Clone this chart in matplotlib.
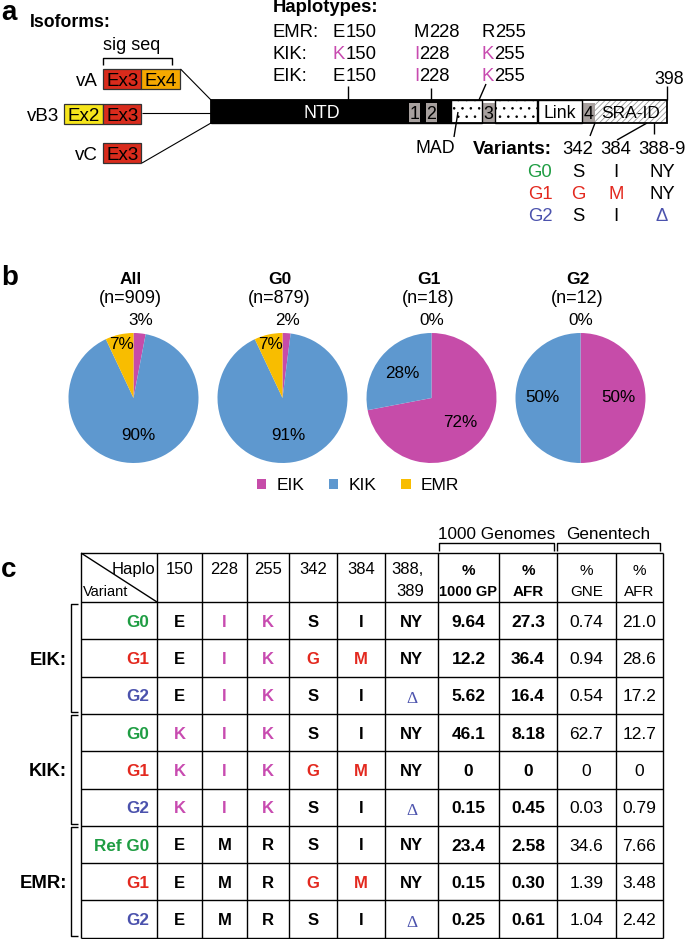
import matplotlib
matplotlib.use('Agg')
import matplotlib.pyplot as plt
from matplotlib.patches import Rectangle, Patch
import math

plt.rcParams['font.family'] = ['Liberation Sans', 'DejaVu Sans']
plt.rcParams['hatch.linewidth'] = 0.6

# ---------------- data ----------------
# panel a
isoform_names = ['vA', 'vB3', 'vC']
isoform_exons = [['Ex3', 'Ex4'], ['Ex2', 'Ex3'], ['Ex3']]
haplotype_names = ['EMR', 'KIK', 'EIK']
haplo_positions = [150, 228, 255]
haplo_residues = {'EMR': ['E', 'M', 'R'], 'KIK': ['K', 'I', 'K'], 'EIK': ['E', 'I', 'K']}
reference_haplotype = 'EMR'
protein_end = '398'
variant_names = ['G0', 'G1', 'G2']
variant_positions = ['342', '384', '388-9']
variant_residues = {'G0': ['S', 'I', 'NY'], 'G1': ['G', 'M', 'NY'], 'G2': ['S', 'I', 'Δ']}

# panel b
pie_groups = ['All', 'G0', 'G1', 'G2']
pie_n = [909, 879, 18, 12]
pie_categories = ['EIK', 'KIK', 'EMR']
pie_eik = [3, 2, 72, 50]
pie_kik = [90, 91, 28, 50]
pie_emr = [7, 7, 0, 0]

# panel c
table_haplotypes = ['EIK', 'KIK', 'EMR']
table_variants = ['G0', 'G1', 'G2']
table_positions = ['150', '228', '255', '342', '384']
pct_1000gp = ['9.64', '12.2', '5.62', '46.1', '0', '0.15', '23.4', '0.15', '0.25']
pct_afr_1000gp = ['27.3', '36.4', '16.4', '8.18', '0', '0.45', '2.58', '0.30', '0.61']
pct_gne = ['0.74', '0.94', '0.54', '62.7', '0', '0.03', '34.6', '1.39', '1.04']
pct_afr_gne = ['21.0', '28.6', '17.2', '12.7', '0', '0.79', '7.66', '3.48', '2.42']

# ---------------- styles ----------------
C_VAR = {'G0': '#1f9d43', 'G1': '#e3291f', 'G2': '#4b52ad'}
MAG = '#c84bb0'
EX_COL = {'Ex3': '#d92b1c', 'Ex4': '#f5a800', 'Ex2': '#f6e51b'}
PIE_COL = ['#c64ca9', '#5e98cf', '#f8bd00']
GRAY = '#a7a09e'

W, H = 685, 939
fig = plt.figure(figsize=(W / 100, H / 100), dpi=100)
ax = fig.add_axes([0, 0, 1, 1])
ax.set_xlim(0, W)
ax.set_ylim(H, 0)
ax.axis('off')

PX = 100 / 72


def T(x, yc, s, size=12, ha='center', color='k', weight='normal', **kw):
    return ax.text(x, yc + 0.358 * size * PX, s, fontsize=size, ha=ha, va='baseline',
                   color=color, fontweight=weight, **kw)


def L(xs, ys, lw=1.0, color='k'):
    ax.plot(xs, ys, color=color, lw=lw, solid_capstyle='butt')


def colored_pair(x, yc, first, rest, c1, size=13.3):
    t1 = T(x, yc, first, size, ha='left', color=c1)
    ax.annotate(rest, xy=(1, 0), xycoords=t1, ha='left', va='bottom', fontsize=size)


# ================= panel a =================
ax.text(1, 20, 'a', fontsize=20, fontweight='bold', va='baseline')
T(30, 21, 'Isoforms:', 12.7, ha='left', weight='bold')
ax.text(132, 50, 'sig seq', fontsize=13, ha='center', va='baseline')
L([103, 103, 172, 172], [65, 58, 58, 65])

row_tops = [69, 104, 143]
exw, exh = 38.5, 20
bar_x0, bar_x1, bar_y0, bar_y1 = 211, 667, 100, 123
for name, exons, y0 in zip(isoform_names, isoform_exons, row_tops):
    start = 103 - exons.index('Ex3') * exw
    for k, ex in enumerate(exons):
        ax.add_patch(Rectangle((start + k * exw, y0), exw, exh, facecolor=EX_COL[ex],
                               edgecolor='#333333', lw=0.9))
        T(start + k * exw + exw / 2, y0 + exh / 2, ex, 13.5)
    T(start - 5, y0 + exh / 2, name, 13.5, ha='right')
# connecting lines
L([180.5, bar_x0], [69, bar_y0], lw=0.8)
L([142, bar_x0], [113, 113], lw=0.8)
L([142, bar_x0], [163, bar_y1], lw=0.8)

# protein bar
ax.add_patch(Rectangle((bar_x0, bar_y0), 451 - bar_x0, bar_y1 - bar_y0, facecolor='black', edgecolor='black'))
T(322, 111.5, 'NTD', 12.8, color='white')
for xa, xb, lab in [(409, 420, '1'), (426, 437, '2'), (482, 495, '3'), (582, 595, '4')]:
    ax.add_patch(Rectangle((xa, 103), xb - xa, bar_y1 - 103, facecolor=GRAY, edgecolor='none'))
    T((xa + xb) / 2, 113, lab, 12.8)
for xa, xb in [(451, 482), (495, 537)]:
    ax.add_patch(Rectangle((xa, bar_y0), xb - xa, bar_y1 - bar_y0, facecolor='white',
                           edgecolor='black', hatch='..', lw=1.0))
ax.add_patch(Rectangle((538, bar_y0), 44, bar_y1 - bar_y0, facecolor='white', edgecolor='black', lw=1.0))
T(560, 111.5, 'Link', 12.8)
ax.add_patch(Rectangle((595, bar_y0), bar_x1 - 595, bar_y1 - bar_y0, facecolor='white',
                       edgecolor='#999999', hatch='//////', lw=0))
T(631, 111.5, 'SRA-ID', 12.5)
ax.add_patch(Rectangle((bar_x0, bar_y0), bar_x1 - bar_x0, bar_y1 - bar_y0, facecolor='none',
                       edgecolor='black', lw=1.3))
T(669, 78, protein_end, 12.8)
L([667, 667], [86, bar_y0])

# haplotypes
ax.text(273, 12, 'Haplotypes:', fontsize=13.3, fontweight='bold', ha='left', va='baseline')
col_left = [333, 414, 482]
for hap, yc in zip(haplotype_names, [30, 52, 74]):
    T(273, yc, hap + ':', 13.3, ha='left')
    for j, pos in enumerate(haplo_positions):
        res = haplo_residues[hap][j]
        c = MAG if res != haplo_residues[reference_haplotype][j] else 'k'
        colored_pair(col_left[j], yc, res, str(pos), c)
L([348, 348], [86, bar_y0])
L([431, 431], [88, bar_y0])
L([486, 479], [84, bar_y0])

# MAD & variants
T(435, 147, 'MAD', 12.8)
L([454, 458], [137, 112])
T(473, 147, 'Variants:', 13.5, ha='left', weight='bold')
var_x = [578, 616, 662]
for p, x in zip(variant_positions, var_x):
    T(x, 147, p, 13.3)
L([590, 595], [136, bar_y1])
L([617, 647], [140, bar_y1])
L([654, 654], [134, bar_y1])
for v, yc in zip(variant_names, [170, 192, 214]):
    T(540, yc, v, 13.3, color=C_VAR[v])
    for j, x in enumerate(var_x):
        res = variant_residues[v][j]
        c = C_VAR[v] if res != variant_residues['G0'][j] else 'k'
        T(x, yc, res, 13.3, color=c)

# ================= panel b =================
ax.text(1, 285, 'b', fontsize=20, fontweight='bold', va='baseline')
R = 65
cy = 398
for i, grp in enumerate(pie_groups):
    cx = 133.5 + i * 149
    T(cx - 3, 277.5, grp, 12.5, weight='bold')
    T(cx - 3, 297, f'(n={pie_n[i]})', 13)
    pax = fig.add_axes([(cx - R) / W, 1 - (cy + R) / H, 2 * R / W, 2 * R / H])
    vals = [pie_eik[i], pie_kik[i], pie_emr[i]]
    pax.pie(vals, colors=PIE_COL, startangle=90, counterclock=False,
            wedgeprops=dict(linewidth=0))
    pax.set_xlim(-1, 1)
    pax.set_ylim(-1, 1)
    pax.axis('off')
    tot = sum(vals)
    ang = 90.0
    for v in vals:
        span = 360.0 * v / tot
        mid = math.radians(ang - span / 2)
        ang -= span
        if v < 5:
            r = 1.19
        elif v < 10:
            r = 0.84
        else:
            r = 0.58
        pax.text(r * math.cos(mid), r * math.sin(mid), f'{v}%', fontsize=12.3,
                 ha='center', va='center', clip_on=False)

handles = [Patch(facecolor=c, edgecolor='none') for c in PIE_COL]
fig.legend(handles, pie_categories, loc='center', bbox_to_anchor=(358 / W, 1 - 485.5 / H),
           ncol=3, frameon=False, fontsize=12.5, handlelength=0.55, handleheight=0.55,
           handletextpad=0.6, columnspacing=1.4)

# ================= panel c =================
ax.text(1, 577, 'c', fontsize=20, fontweight='bold', va='baseline')
cols = [81, 157, 202, 247, 289, 337, 385, 438, 499, 557, 616, 663]
top, hdr, rh = 553, 602, 37.3
nrows = len(table_haplotypes) * len(table_variants)
bottom = hdr + rh * nrows
for k in range(nrows + 1):
    y = hdr + k * rh
    L([cols[0], cols[-1]], [y, y])
L([cols[0], cols[-1]], [top, top])
for x in cols:
    L([x, x], [top, bottom])
L([cols[0], cols[1]], [top, hdr])
T(155, 568, 'Haplo', 12, ha='right')
T(83, 591, 'Variant', 10.5, ha='left')
for j, p in enumerate(table_positions):
    T((cols[j + 1] + cols[j + 2]) / 2, 568, p, 12)
T(424, 568, '388,', 12, ha='right')
T(424, 590, '389', 12, ha='right')
hdr_cols = [('1000 GP', 'bold', 10.5), ('AFR', 'bold', 11), ('GNE', 'normal', 11), ('AFR', 'normal', 11)]
for k, (lab, wt, sz) in enumerate(hdr_cols):
    xc = (cols[7 + k] + cols[8 + k]) / 2
    T(xc, 570, '%', 11, weight=wt)
    T(xc, 591, lab, sz, weight=wt)
for lab, xa, xb in [('1000 Genomes', 439, 554), ('Genentech', 557, 660)]:
    T((xa + xb) / 2, 533, lab, 12.3)
    L([xa, xa, xb, xb], [551, 543, 543, 551])

for g, hap in enumerate(table_haplotypes):
    gy0 = hdr + g * 3 * rh
    gy1 = gy0 + 3 * rh
    L([78, 71, 71, 78], [gy0 + 1.5, gy0 + 1.5, gy1 - 1.5, gy1 - 1.5])
    T(67, (gy0 + gy1) / 2, hap + ':', 13.3, ha='right', weight='bold')
    for vi, var in enumerate(table_variants):
        row = g * 3 + vi
        yc = hdr + rh * (row + 0.5)
        lab = 'Ref ' + var if (hap == reference_haplotype and var == 'G0') else var
        T(149, yc, lab, 12.3, ha='right', color=C_VAR[var], weight='bold')
        cells = []
        for j in range(3):
            res = haplo_residues[hap][j]
            cells.append((res, MAG if res != haplo_residues[reference_haplotype][j] else 'k'))
        for j in range(3):
            res = variant_residues[var][j]
            cells.append((res, C_VAR[var] if res != variant_residues['G0'][j] else 'k'))
        for j, (res, c) in enumerate(cells):
            xc = (cols[j + 1] + cols[j + 2]) / 2
            if res == 'Δ':
                T(xc, yc + 2, res, 12.5, color=c, family=['Liberation Serif', 'DejaVu Serif'])
            else:
                T(xc, yc, res, 12, color=c, weight='bold')
        nums = [(pct_1000gp[row], 'bold'), (pct_afr_1000gp[row], 'bold'),
                (pct_gne[row], 'normal'), (pct_afr_gne[row], 'normal')]
        for k, (s, wt) in enumerate(nums):
            xc = (cols[7 + k] + cols[8 + k]) / 2
            T(xc, yc, s, 12.5, weight=wt)

fig.savefig('out.png', dpi=100)
